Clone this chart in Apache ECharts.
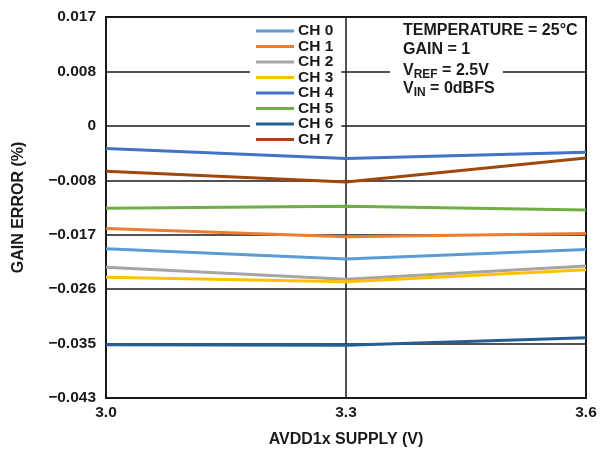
<!DOCTYPE html>
<html>
<head>
<meta charset="utf-8">
<script src="https://cdn.jsdelivr.net/npm/echarts@6/dist/echarts.min.js"></script>
<style>
  html, body { margin: 0; padding: 0; background: #fff; }
  #chart { width: 613px; height: 453px; }
</style>
</head>
<body>
<div id="chart"></div>
<script>
// supply voltages (V)
var supply = [3.0, 3.3, 3.6]
var channels = ['CH 0', 'CH 1', 'CH 2', 'CH 3', 'CH 4', 'CH 5', 'CH 6', 'CH 7']
// gain error (%) per channel
var ch0 = [-0.0195, -0.0211, -0.0196]
var ch1 = [-0.0163, -0.0176, -0.0171]
var ch2 = [-0.0224, -0.0243, -0.0222]
var ch3 = [-0.0240, -0.0247, -0.0228]
var ch4 = [-0.0037, -0.0053, -0.0043]
var ch5 = [-0.0131, -0.0128, -0.0134]
var ch6 = [-0.0346, -0.0347, -0.0335]
var ch7 = [-0.0073, -0.0090, -0.0052]
var yTickLabels = ['\u22120.043', '\u22120.035', '\u22120.026', '\u22120.017', '\u22120.008', '0', '0.008', '0.017']

var colors = ['#5B9BD5', '#ED7D31', '#A5A5A5', '#FFC000', '#4472C4', '#70AD47', '#255E91', '#9E480E']
var values = [ch0, ch1, ch2, ch3, ch4, ch5, ch6, ch7]

var yMin = -0.043
var yMax = 0.017
var yStep = (yMax - yMin) / 7

var font = 'Liberation Sans, Arial, sans-serif'
var ink = '#1a1a1a'

var chart = echarts.init(document.getElementById('chart'))

var series = channels.map(function (name, i) {
  return {
    name: name,
    type: 'line',
    data: supply.map(function (x, j) { return [x, values[i][j]] }),
    symbol: 'none',
    lineStyle: { color: colors[i], width: 3 },
    itemStyle: { color: colors[i] },
    z: 3
  }
})

// annotation lines; only the one sitting on a gridline gets a white backing
var notes = [
  { text: '{a|TEMPERATURE = 25°C}', top: 23, bg: false },
  { text: '{a|GAIN = 1}', top: 42, bg: false },
  { text: '{a|V}{s|REF}{a| = 2.5V}', top: 60, bg: true },
  { text: '{a|V}{s|IN}{a| = 0dBFS}', top: 78, bg: false }
]
var rich = {
  a: { fontFamily: font, fontSize: 16, fontWeight: 'bold', fill: ink, lineHeight: 18 },
  s: { fontFamily: font, fontSize: 12, fontWeight: 'bold', fill: ink, lineHeight: 18, padding: [9, 0, 0, 0] }
}

chart.setOption({
  animation: false,
  grid: {
    left: 106,
    right: 27,
    top: 17,
    bottom: 55,
    show: true,
    borderColor: ink,
    borderWidth: 2
  },
  legend: {
    orient: 'vertical',
    left: 250,
    top: 21,
    itemWidth: 38,
    itemHeight: 3,
    itemGap: -0.5,
    padding: [2, 8, 2, 6],
    backgroundColor: '#fff',
    icon: 'rect',
    textStyle: { fontFamily: font, fontSize: 15.5, fontWeight: 'bold', color: ink, lineHeight: 15.5, padding: [0, 0, 0, -1] },
    data: channels
  },
  xAxis: {
    type: 'value',
    min: 3.0,
    max: 3.6,
    interval: 0.3,
    name: 'AVDD1x SUPPLY (V)',
    nameLocation: 'middle',
    nameGap: 34,
    nameTextStyle: { fontFamily: font, fontSize: 16, fontWeight: 'bold', color: ink },
    axisLine: { show: true, onZero: false, lineStyle: { color: ink, width: 2 } },
    axisTick: { show: false },
    axisLabel: {
      fontFamily: font, fontSize: 15.5, fontWeight: 'bold', color: ink, margin: 7,
      formatter: function (v) { return v.toFixed(1) }
    },
    splitLine: { show: true, lineStyle: { color: ink, width: 1.5 } }
  },
  yAxis: {
    type: 'value',
    min: yMin,
    max: yMax,
    interval: yStep,
    name: 'GAIN ERROR (%)',
    nameLocation: 'middle',
    nameGap: 79,
    nameTextStyle: { fontFamily: font, fontSize: 16, fontWeight: 'bold', color: ink },
    axisLine: { show: true, onZero: false, lineStyle: { color: ink, width: 2 } },
    axisTick: { show: false },
    axisLabel: {
      fontFamily: font, fontSize: 15.5, fontWeight: 'bold', color: ink, margin: 10,
      formatter: function (v) {
        var idx = Math.round((v - yMin) / yStep)
        return yTickLabels[idx] || ''
      }
    },
    splitLine: { show: true, lineStyle: { color: ink, width: 1.5 } }
  },
  graphic: notes.map(function (n) {
    return {
      type: 'text',
      left: n.bg ? 390 : 403,
      top: n.top,
      z: 11,
      style: {
        text: n.text,
        rich: rich,
        backgroundColor: n.bg ? '#fff' : null,
        padding: n.bg ? [0, 14, 0, 13] : 0
      }
    }
  }),
  series: series
})
</script>
</body>
</html>
